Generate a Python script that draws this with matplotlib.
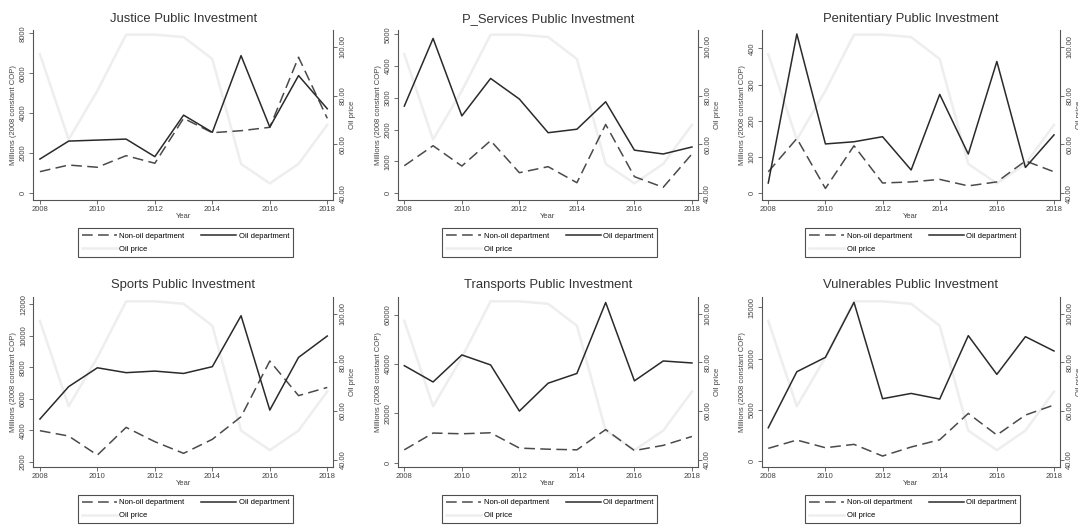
import matplotlib
matplotlib.use("Agg")
import matplotlib.pyplot as plt

plt.rcParams['font.family'] = ['Liberation Sans', 'DejaVu Sans']

years = list(range(2008, 2019))

# oil price (right axis)
oil_price = [97, 62, 82, 105, 105, 104, 95, 52, 44, 52, 68]

titles = ["Justice Public Investment", "P_Services Public Investment",
          "Penitentiary Public Investment", "Sports Public Investment",
          "Transports Public Investment", "Vulnerables Public Investment"]

justice_nonoil = [1070, 1400, 1290, 1870, 1490, 3740, 3020, 3120, 3290, 6800, 3740]
justice_oil = [1700, 2600, 2650, 2700, 1820, 3900, 3040, 6880, 3300, 5880, 4220]

pserv_nonoil = [860, 1490, 850, 1650, 640, 830, 325, 2160, 515, 180, 1230]
pserv_oil = [2740, 4870, 2430, 3610, 2960, 1900, 2010, 2875, 1350, 1230, 1450]

penit_nonoil = [59, 151, 13, 131, 28, 31, 38, 20, 31, 89, 59]
penit_oil = [28, 440, 136, 142, 156, 64, 273, 108, 364, 71, 161]

sports_nonoil = [3970, 3630, 2420, 4180, 3270, 2530, 3420, 4860, 8400, 6200, 6720]
sports_oil = [4710, 6770, 7970, 7660, 7760, 7610, 8040, 11280, 5280, 8630, 9990]

transp_nonoil = [5200, 12000, 11700, 12100, 5900, 5450, 5200, 13400, 4900, 7000, 10600]
transp_oil = [39300, 32700, 43650, 39600, 20900, 32200, 36150, 64900, 33150, 41200, 40400]

vuln_nonoil = [1240, 2050, 1300, 1630, 490, 1370, 2080, 4650, 2540, 4490, 5470]
vuln_oil = [3250, 8720, 10120, 15490, 6085, 6600, 6050, 12240, 8460, 12140, 10740]

nonoil_series = [justice_nonoil, pserv_nonoil, penit_nonoil, sports_nonoil, transp_nonoil, vuln_nonoil]
oil_series = [justice_oil, pserv_oil, penit_oil, sports_oil, transp_oil, vuln_oil]

left_ticks = [[0, 2000, 4000, 6000, 8000],
              [0, 1000, 2000, 3000, 4000, 5000],
              [0, 100, 200, 300, 400],
              [2000, 4000, 6000, 8000, 10000, 12000],
              [0, 20000, 40000, 60000],
              [0, 5000, 10000, 15000]]
left_lims = [(-350, 8163), (-220, 5136), (-19, 451),
             (1680, 12490), (-1640, 67250), (-550, 16040)]
right_ticks = [40, 60, 80, 100]

W, H = 1078, 529
fig = plt.figure(figsize=(W / 100, H / 100), dpi=100)
fig.patch.set_facecolor('white')

col_x = [(33.3, 333.3), (397.7, 698), (761.7, 1060)]
row_y = [(30, 200), (296.7, 466.7)]

txt = '#444444'
for i in range(6):
    r, c = divmod(i, 3)
    x0, x1 = col_x[c]
    y0, y1 = row_y[r]
    ax = fig.add_axes([x0 / W, 1 - y1 / H, (x1 - x0) / W, (y1 - y0) / H])
    ax2 = ax.twinx()
    ax.set_zorder(ax2.get_zorder() + 1)
    ax.patch.set_visible(False)

    ax2.plot(years, oil_price, color='#eeeeee', lw=1.8, label='Oil price')
    ax2.set_ylim(37.2, 106.9)
    ax2.set_yticks(right_ticks)
    ax2.set_yticklabels(['%.2f' % v for v in right_ticks], rotation=90, va='center')
    ax2.set_ylabel('Oil price', fontsize=5.5, color=txt, labelpad=2)

    l1, = ax.plot(years, nonoil_series[i], color='#4a4a4a', lw=1.1,
                  dashes=(7, 3.5), label='Non-oil department')
    l2, = ax.plot(years, oil_series[i], color='#2a2a2a', lw=1.1, label='Oil department')
    ax.set_ylim(*left_lims[i])
    ax.set_yticks(left_ticks[i])
    ax.set_yticklabels([str(v) for v in left_ticks[i]], rotation=90, va='center')
    ax.set_xlim(2007.77, 2018.21)
    ax.set_xticks(range(2008, 2019, 2))
    ax.set_ylabel('Millions (2008 constant COP)', fontsize=5.5, color=txt, labelpad=2)
    ax.set_xlabel('Year', fontsize=5.5, color=txt, labelpad=0)
    ax.set_title(titles[i], fontsize=9.4, color='#333333', pad=6)

    for a in (ax, ax2):
        a.spines['top'].set_visible(False)
        for s in ('left', 'right', 'bottom'):
            a.spines[s].set_color('#555555')
            a.spines[s].set_linewidth(0.8)
        a.tick_params(labelsize=5.5, colors='#555555', labelcolor=txt,
                      length=3, width=0.6, pad=1.5)
    ax2.spines['left'].set_visible(False)
    ax2.spines['bottom'].set_visible(False)
    ax.spines['right'].set_visible(False)

    handles = [l1, ax2.lines[0], l2]
    ax.legend(handles, [h.get_label() for h in handles], ncol=2,
              loc='upper center', bbox_to_anchor=(0.507, -0.145),
              fontsize=5.5, frameon=True, fancybox=False, edgecolor='#222222',
              handlelength=4.6, columnspacing=2.2, labelspacing=0.75,
              borderpad=0.5, handletextpad=0.3).get_frame().set_linewidth(0.8)

fig.savefig('out.png', dpi=100, facecolor='white')
